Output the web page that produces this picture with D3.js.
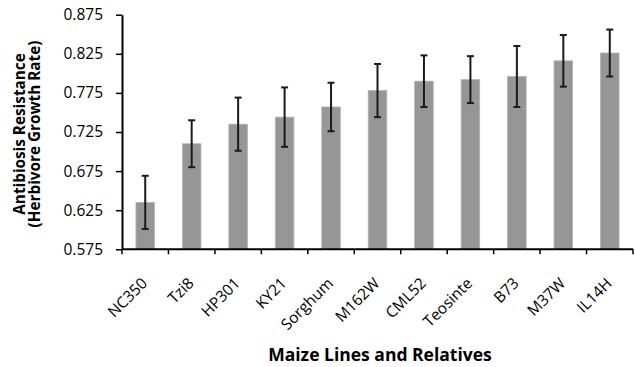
<!DOCTYPE html>
<html>
<head>
<meta charset="utf-8">
<script src="https://cdn.jsdelivr.net/npm/d3@7"></script>
<style>
    body { margin: 0; background: #fff; }
    text { font-family: "Open Sans", sans-serif; fill: #000; }
</style>
</head>
<body>
<script>
const lines = ["NC350", "Tzi8", "HP301", "KY21", "Sorghum", "M162W", "CML52", "Teosinte", "B73", "M37W", "IL14H"];
const means = [0.635, 0.710, 0.735, 0.744, 0.757, 0.778, 0.790, 0.792, 0.796, 0.816, 0.826];
const errors = [0.034, 0.030, 0.034, 0.038, 0.031, 0.034, 0.033, 0.030, 0.039, 0.033, 0.030];
const yTicks = [0.575, 0.625, 0.675, 0.725, 0.775, 0.825, 0.875];

const width = 635, height = 367;
const margin = { left: 122, right: 2, top: 14.7, bottom: 117.7 };

const svg = d3.select("body").append("svg")
    .attr("width", width)
    .attr("height", height);

const x = d3.scaleBand()
    .domain(lines)
    .range([margin.left, width - margin.right])
    .paddingInner(0.6)
    .paddingOuter(0.3);
const y = d3.scaleLinear()
    .domain([0.575, 0.875])
    .range([height - margin.bottom, margin.top]);

// bars
svg.append("g")
    .selectAll("rect")
    .data(lines)
    .join("rect")
        .attr("x", d => x(d))
        .attr("y", (d, i) => y(means[i]))
        .attr("width", x.bandwidth())
        .attr("height", (d, i) => y(0.575) - y(means[i]))
        .attr("fill", "#969696")
        .attr("stroke", "#b4b4b4")
        .attr("stroke-width", 0.8);

// error bars
const err = svg.append("g")
    .attr("stroke", "#1a1a1a")
    .attr("stroke-width", 2);
lines.forEach((d, i) => {
    const cx = x(d) + x.bandwidth() / 2;
    const hi = y(means[i] + errors[i]), lo = y(means[i] - errors[i]);
    err.append("line").attr("x1", cx).attr("x2", cx).attr("y1", hi).attr("y2", lo);
    err.append("line").attr("x1", cx - 3.5).attr("x2", cx + 3.5).attr("y1", hi).attr("y2", hi);
    err.append("line").attr("x1", cx - 3.5).attr("x2", cx + 3.5).attr("y1", lo).attr("y2", lo);
});

// y axis
const yAxis = svg.append("g")
    .attr("transform", `translate(${margin.left},0)`)
    .call(d3.axisLeft(y).tickValues(yTicks).tickFormat(d3.format(".3f")).tickSize(6).tickSizeOuter(0));
yAxis.select(".domain").attr("stroke-width", 2);
yAxis.selectAll(".tick line").attr("stroke-width", 1.5);
yAxis.selectAll(".tick text")
    .attr("x", -19)
    .style("font-size", "15.5px")
    .attr("fill", "#000");

// x axis, ticks sit between categories
const step = x.step();
const boundaries = d3.range(lines.length + 1).map(i => margin.left + i * step);
const xAxis = svg.append("g");
xAxis.append("line")
    .attr("x1", margin.left).attr("x2", width - margin.right)
    .attr("y1", y(0.575)).attr("y2", y(0.575))
    .attr("stroke", "#000").attr("stroke-width", 2);
xAxis.selectAll(".bt")
    .data(boundaries)
    .join("line")
        .attr("class", "bt")
        .attr("x1", d => d).attr("x2", d => d)
        .attr("y1", y(0.575)).attr("y2", y(0.575) + 5)
        .attr("stroke", "#000").attr("stroke-width", 1.5);
xAxis.selectAll(".lab")
    .data(lines)
    .join("text")
        .attr("class", "lab")
        .attr("text-anchor", "end")
        .style("font-size", "15.5px")
        .attr("transform", d => `translate(${x(d) + x.bandwidth() / 2 + 3}, ${y(0.575) + 35}) rotate(-45)`)
        .text(d => d);

// axis titles
svg.append("text")
    .attr("x", 380)
    .attr("y", 361)
    .attr("text-anchor", "middle")
    .style("font-size", "17.5px")
    .style("font-weight", "bold")
    .text("Maize Lines and Relatives");

const yTitle = svg.append("text")
    .attr("transform", `translate(25, ${y(0.725) + 2}) rotate(-90)`)
    .attr("text-anchor", "middle")
    .style("font-size", "15.3px")
    .style("font-weight", "bold");
yTitle.append("tspan").attr("x", 0).attr("dy", 0).text("Antibiosis Resistance");
yTitle.append("tspan").attr("x", 0).attr("dy", 15).text("(Herbivore Growth Rate)");
</script>
</body>
</html>
